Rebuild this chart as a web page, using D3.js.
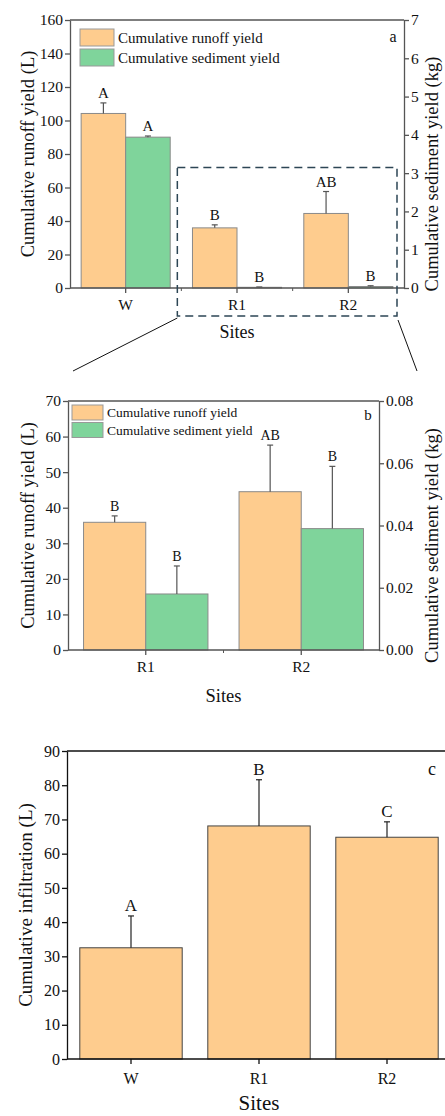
<!DOCTYPE html>
<html>
<head>
<meta charset="utf-8">
<script src="https://cdn.jsdelivr.net/npm/d3@7"></script>
<style>
  body { margin: 0; background: #fff; }
  svg { display: block; font-family: "Liberation Serif", "Times New Roman", serif; }
</style>
</head>
<body>
<svg width="445" height="1116"></svg>
<script>
// data
const sitesA = ["W", "R1", "R2"]
const runoff = [104.2, 35.9, 44.5]
const runoffErr = [6.3, 1.8, 13.1]
const runoffLetters = ["A", "B", "AB"]
const sediment = [3.94, 0.018, 0.039]
const sedimentErr = [0.03, 0.009, 0.020]
const sedimentLetters = ["A", "B", "B"]

const sitesB = ["R1", "R2"]

const sitesC = ["W", "R1", "R2"]
const infiltration = [32.5, 68.1, 64.8]
const infiltrationErr = [9.3, 13.5, 4.5]
const infiltrationLetters = ["A", "B", "C"]

const ticksA = [0, 20, 40, 60, 80, 100, 120, 140, 160]
const ticksAR = [0, 1, 2, 3, 4, 5, 6, 7]
const ticksB = [0, 10, 20, 30, 40, 50, 60, 70]
const ticksBR = [0, 0.02, 0.04, 0.06, 0.08]
const ticksC = [0, 10, 20, 30, 40, 50, 60, 70, 80, 90]

const orange = "#fecc8e"
const green = "#7fd49b"

const svg = d3.select("svg")

function drawPanel(p) {
  const g = svg.append("g")

  const x = d3.scaleBand().domain(p.sites).range([p.left, p.right])
  const bw = x.bandwidth()
  const inner = d3.scaleBand().domain(d3.range(p.series.length)).range([0.1 * bw, 0.9 * bw])

  const yL = d3.scaleLinear().domain(p.yDomain).range([p.bottom, p.top])
  const yR = p.yRDomain ? d3.scaleLinear().domain(p.yRDomain).range([p.bottom, p.top]) : null

  // bars
  p.series.forEach((s, si) => {
    const ys = s.axis === "right" ? yR : yL
    const rows = p.sites.map((site, i) => ({ site, v: s.values[i], e: s.err[i], l: s.letters[i] }))
    const cx = d => x(d.site) + inner(si) + inner.bandwidth() / 2

    g.selectAll(null).data(rows).enter()
      .append("rect")
      .attr("x", d => x(d.site) + inner(si))
      .attr("y", d => ys(d.v))
      .attr("width", inner.bandwidth())
      .attr("height", d => p.bottom - ys(d.v))
      .attr("fill", s.color)
      .attr("stroke", p.barStroke)
      .attr("stroke-width", 1)

    g.selectAll(null).data(rows).enter()
      .append("line")
      .attr("x1", cx).attr("x2", cx)
      .attr("y1", d => ys(d.v)).attr("y2", d => ys(d.v + d.e))
      .attr("stroke", p.errColor).attr("stroke-width", 1.2)

    g.selectAll(null).data(rows).enter()
      .append("line")
      .attr("x1", d => cx(d) - 3).attr("x2", d => cx(d) + 3)
      .attr("y1", d => ys(d.v + d.e)).attr("y2", d => ys(d.v + d.e))
      .attr("stroke", p.errColor).attr("stroke-width", 1.2)

    g.selectAll(null).data(rows).enter()
      .append("text")
      .attr("x", cx)
      .attr("y", d => ys(d.v + d.e) - 5)
      .attr("text-anchor", "middle")
      .attr("font-size", p.letterSize)
      .attr("fill", "#111")
      .text(d => d.l)
  })

  // axes
  const axL = g.append("g")
    .attr("transform", `translate(${p.left},0)`)
    .call(d3.axisLeft(yL).tickValues(p.ticks).tickSize(5).tickSizeOuter(0).tickPadding(2))
  const axB = g.append("g")
    .attr("transform", `translate(0,${p.bottom})`)
    .call(d3.axisBottom(x).tickSize(5).tickSizeOuter(0).tickPadding(p.xPad))
  axB.select(".domain").attr("d", `M${p.left},0H${p.frameRight}`)

  // minor ticks at category boundaries
  if (p.minor) {
    g.selectAll(null).data(p.sites.slice(1)).enter()
      .append("line")
      .attr("x1", d => x(d)).attr("x2", d => x(d))
      .attr("y1", p.bottom).attr("y2", p.bottom + 3)
      .attr("stroke", p.axisColor)
  }

  const axes = [axL, axB]
  if (yR) {
    const axR = g.append("g")
      .attr("transform", `translate(${p.right},0)`)
      .call(d3.axisRight(yR).tickValues(p.ticksR).tickSize(5).tickSizeOuter(0).tickPadding(2)
        .tickFormat(p.formatR))
    axes.push(axR)
  }
  axes.forEach(a => {
    a.attr("font-family", null).attr("font-size", p.tickSize)
    a.selectAll(".domain, .tick line").attr("stroke", p.axisColor).attr("stroke-width", 1.3)
    a.selectAll(".tick text").attr("fill", "#111")
  })

  // top frame
  g.append("line")
    .attr("x1", p.left).attr("x2", p.frameRight)
    .attr("y1", p.top).attr("y2", p.top)
    .attr("stroke", p.axisColor).attr("stroke-width", 1.3)

  // titles
  g.append("text")
    .attr("transform", `translate(${p.leftTitleX},${(p.top + p.bottom) / 2}) rotate(-90)`)
    .attr("text-anchor", "middle").attr("dominant-baseline", "central")
    .attr("font-size", p.titleSize).attr("fill", "#111")
    .text(p.leftTitle)
  if (p.rightTitle) {
    g.append("text")
      .attr("transform", `translate(${p.rightTitleX},${(p.top + p.bottom) / 2 + 20}) rotate(-90)`)
      .attr("text-anchor", "middle").attr("dominant-baseline", "central")
      .attr("font-size", p.titleSize).attr("fill", "#111")
      .text(p.rightTitle)
  }
  g.append("text")
    .attr("x", (p.left + p.right) / 2)
    .attr("y", p.bottom + p.sitesDy)
    .attr("text-anchor", "middle")
    .attr("font-size", p.sitesSize).attr("fill", "#111")
    .text("Sites")

  g.append("text")
    .attr("x", p.tagX).attr("y", p.top + p.tagDy)
    .attr("text-anchor", "middle")
    .attr("font-size", p.tagSize).attr("fill", "#111")
    .text(p.tag)

  // legend
  if (p.legend) {
    const lg = g.append("g").attr("transform", `translate(${p.legend.x},${p.legend.y})`)
    p.series.forEach((s, i) => {
      lg.append("rect")
        .attr("x", 0).attr("y", i * p.legend.step)
        .attr("width", p.legend.w).attr("height", p.legend.h)
        .attr("fill", s.color).attr("stroke", "#999")
      lg.append("text")
        .attr("x", p.legend.w + 4).attr("y", i * p.legend.step + p.legend.h / 2)
        .attr("dominant-baseline", "central")
        .attr("font-size", p.legend.size).attr("fill", "#111")
        .text(s.name)
    })
  }

  return { x, yL, yR }
}

// panel a
const pa = drawPanel({
  sites: sitesA, left: 70, right: 404, frameRight: 404, top: 20, bottom: 288,
  yDomain: [0, 160], yRDomain: [0, 7], ticks: ticksA, ticksR: ticksAR, formatR: d3.format("d"),
  series: [
    { name: "Cumulative runoff yield", values: runoff, err: runoffErr, letters: runoffLetters, color: orange, axis: "left" },
    { name: "Cumulative sediment yield", values: sediment, err: sedimentErr, letters: sedimentLetters, color: green, axis: "right" }
  ],
  barStroke: "#8a8a8a", errColor: "#555", axisColor: "#555", minor: true,
  tickSize: 15.5, letterSize: 15, titleSize: 18.5, sitesSize: 18, xPad: 6, sitesDy: 50,
  leftTitle: "Cumulative runoff yield (L)", leftTitleX: 28,
  rightTitle: "Cumulative sediment yield (kg)", rightTitleX: 432,
  tag: "a", tagSize: 16, tagX: 393, tagDy: 22,
  legend: { x: 80, y: 29, w: 34, h: 17, step: 20, size: 15 }
})

// zoom box and connectors
const zx0 = pa.x("R1") - 4
const zx1 = pa.x.range()[1] - 7
const zy0 = pa.yL(72)
const zy1 = pa.yL(0) + 28
svg.append("rect")
  .attr("x", zx0).attr("y", zy0)
  .attr("width", zx1 - zx0).attr("height", zy1 - zy0)
  .attr("fill", "none").attr("stroke", "#2d4655").attr("stroke-width", 1.5)
  .attr("stroke-dasharray", "8,5")

// panel b
const pb = drawPanel({
  sites: sitesB, left: 68, right: 379, frameRight: 379, top: 401, bottom: 650,
  yDomain: [0, 70], yRDomain: [0, 0.08], ticks: ticksB, ticksR: ticksBR, formatR: d3.format(".2f"),
  series: [
    { name: "Cumulative runoff yield", values: runoff.slice(1), err: runoffErr.slice(1), letters: runoffLetters.slice(1), color: orange, axis: "left" },
    { name: "Cumulative sediment yield", values: sediment.slice(1), err: sedimentErr.slice(1), letters: sedimentLetters.slice(1), color: green, axis: "right" }
  ],
  barStroke: "#8a8a8a", errColor: "#555", axisColor: "#555", minor: true,
  tickSize: 15.5, letterSize: 14, titleSize: 18.5, sitesSize: 18.5, xPad: 6, sitesDy: 52,
  leftTitle: "Cumulative runoff yield (L)", leftTitleX: 28,
  rightTitle: "Cumulative sediment yield (kg)", rightTitleX: 432,
  tag: "b", tagSize: 15, tagX: 368, tagDy: 19,
  legend: { x: 72, y: 405, w: 31, h: 15, step: 17.5, size: 13.5 }
})

svg.append("line")
  .attr("x1", zx0).attr("y1", zy1 + 2)
  .attr("x2", pb.x.range()[0] + 5).attr("y2", pb.yL(70) - 30)
  .attr("stroke", "#111").attr("stroke-width", 1)
svg.append("line")
  .attr("x1", zx1 + 1).attr("y1", zy1 + 4)
  .attr("x2", pb.x.range()[1] + 38).attr("y2", pb.yL(70) - 30)
  .attr("stroke", "#111").attr("stroke-width", 1)

// panel c
drawPanel({
  sites: sitesC, left: 67, right: 451, frameRight: 445, top: 751, bottom: 1059,
  yDomain: [0, 90], ticks: ticksC,
  series: [
    { name: "Cumulative infiltration", values: infiltration, err: infiltrationErr, letters: infiltrationLetters, color: orange, axis: "left" }
  ],
  barStroke: "#444", errColor: "#222", axisColor: "#111", minor: false,
  tickSize: 16, letterSize: 17, titleSize: 19, sitesSize: 21, xPad: 9, sitesDy: 51,
  leftTitle: "Cumulative infiltration (L)", leftTitleX: 25,
  tag: "c", tagSize: 18, tagX: 432, tagDy: 24
})
</script>
</body>
</html>
